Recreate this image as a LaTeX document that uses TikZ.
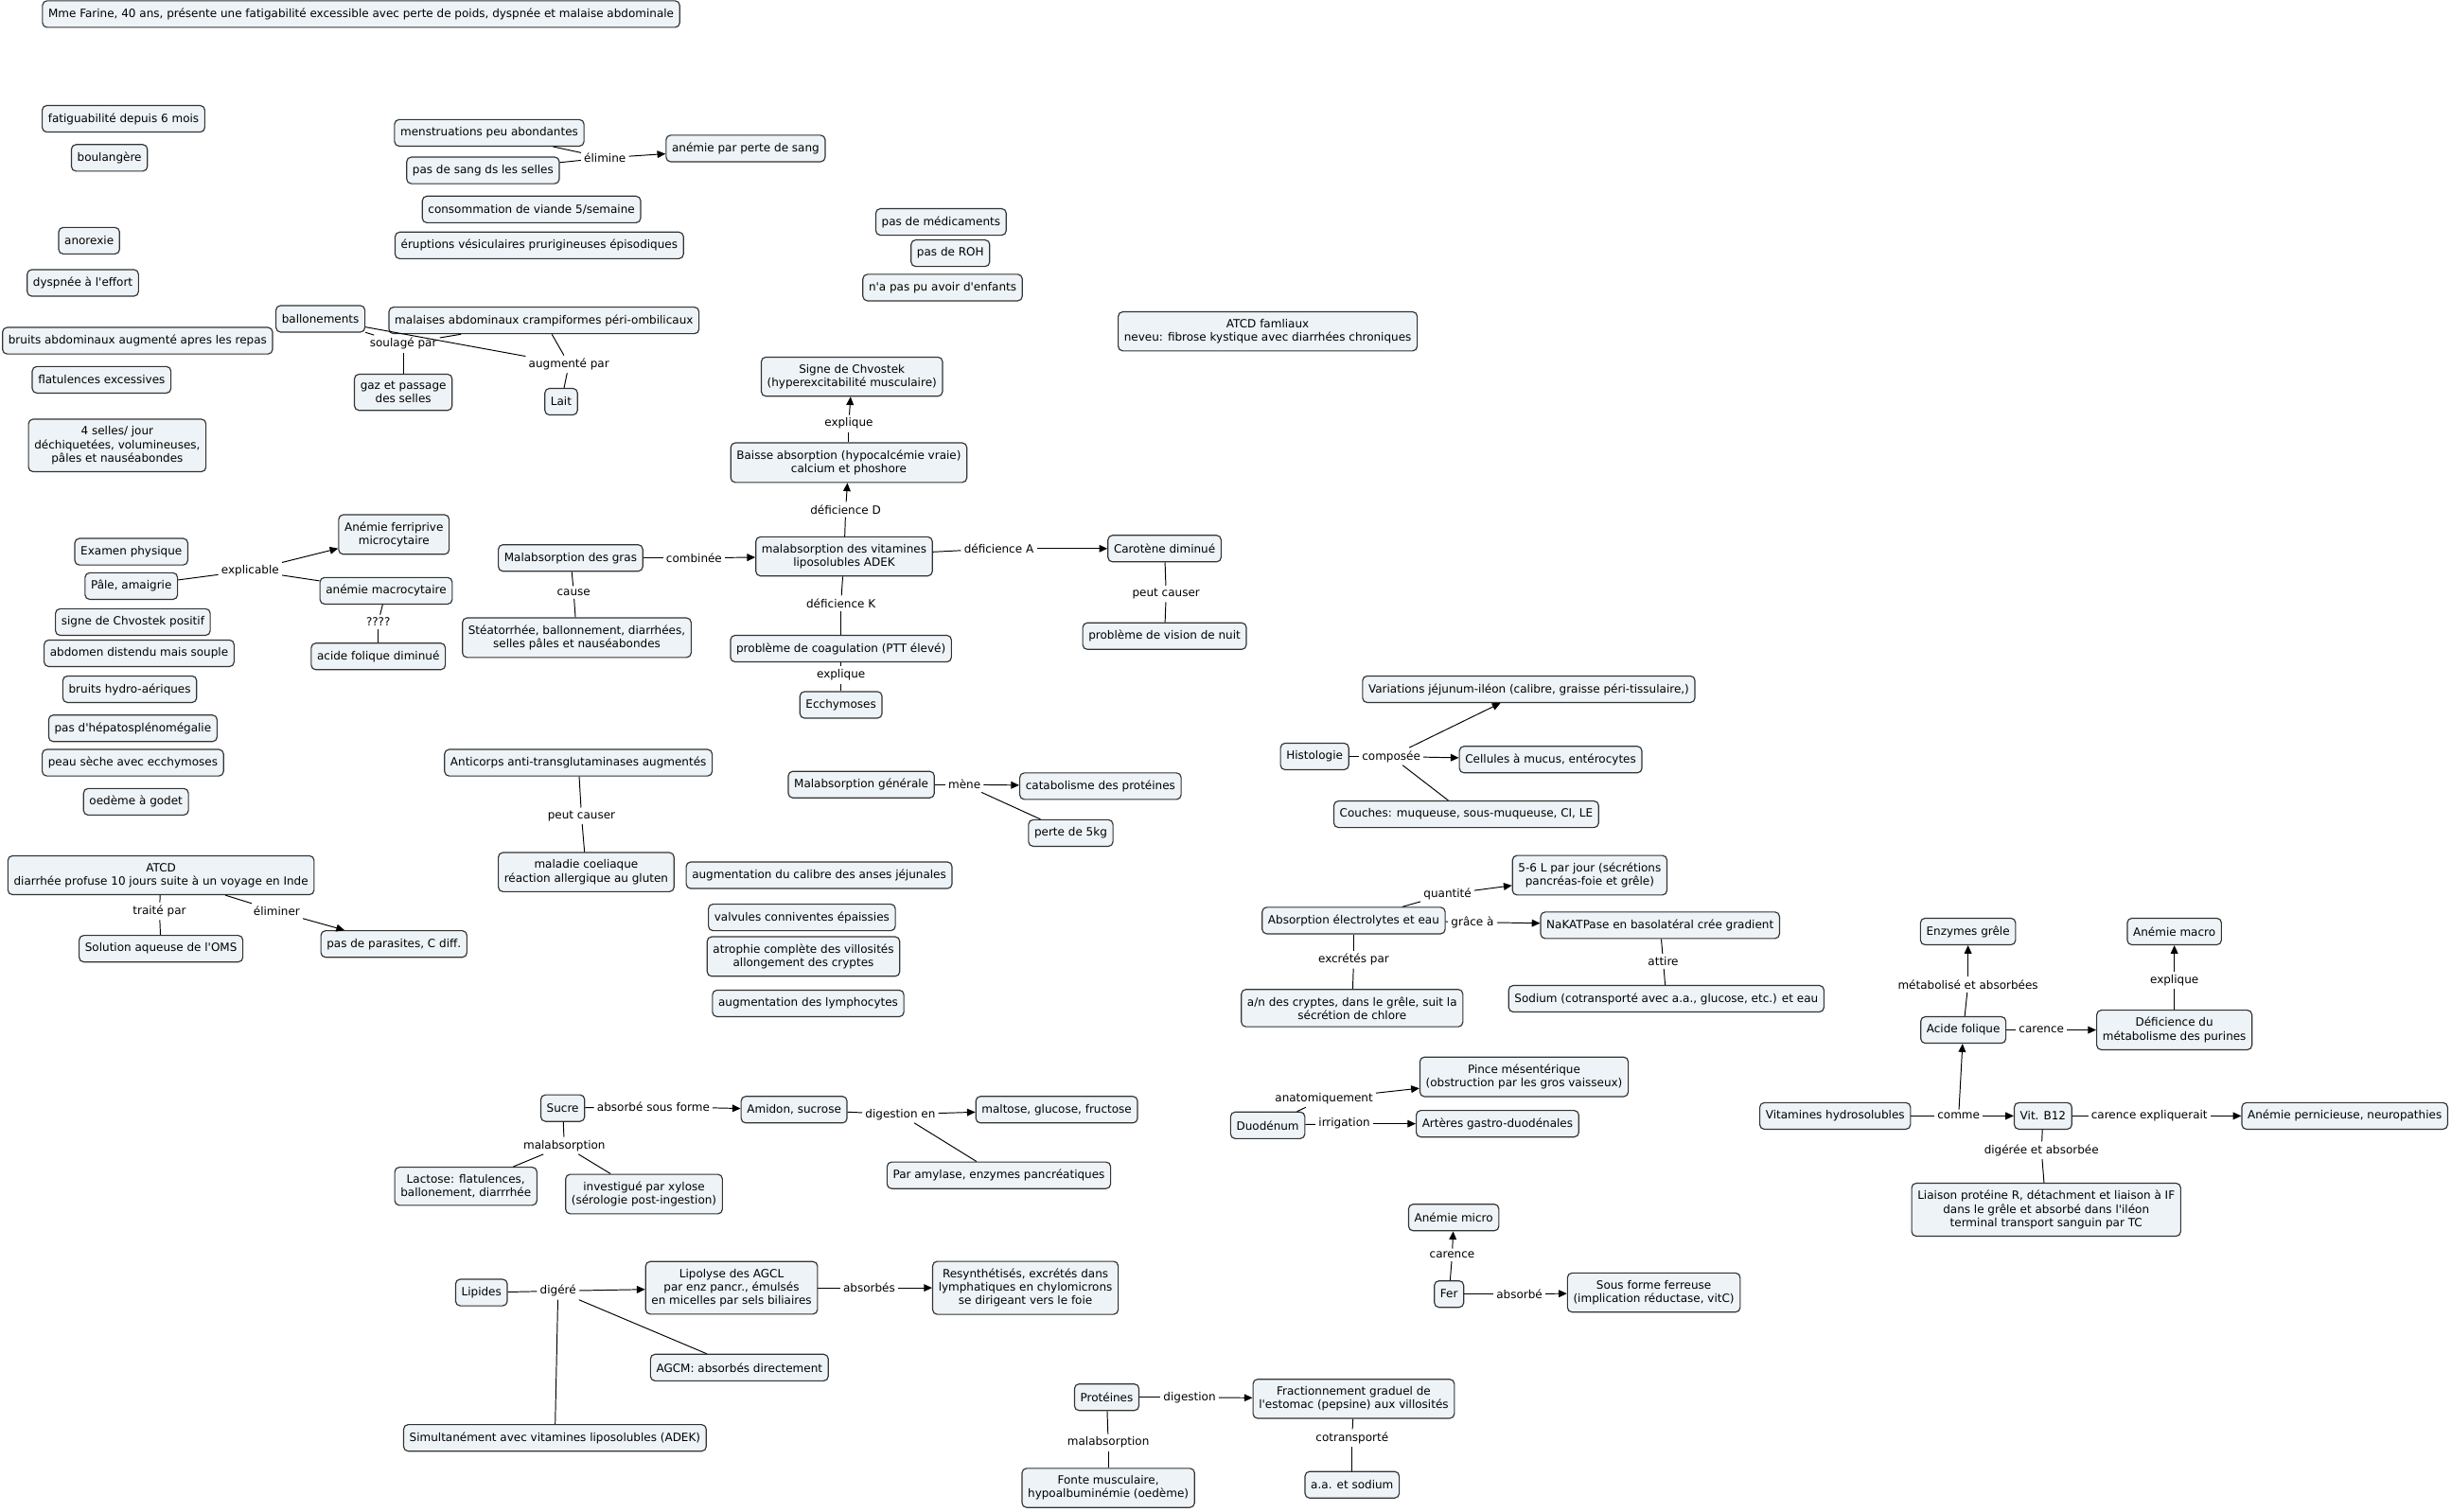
\documentclass[tikz,border=0pt]{standalone}
\usepackage{fontspec}
\setmainfont{DejaVu Sans}
\usetikzlibrary{arrows.meta}
\definecolor{cmapfill}{RGB}{237,243,246}
\newcommand{\aps}{\textquotesingle}

\begin{document}
\begin{tikzpicture}[
  x=0.03cm, y=-0.03cm,
  font=\fontsize{6.2}{7.35}\selectfont,
  >={Triangle[length=4.5pt,width=4pt]},
  concept/.style={rectangle, rounded corners=2.5pt, draw=black!80, fill=cmapfill,
                  line width=0.6pt, align=center, inner xsep=3.2pt, inner ysep=4pt,
                  minimum height=14.5pt},
  phrase/.style={inner sep=1.5pt, align=center},
  link/.style={draw=black, line width=0.5pt},
  linkto/.style={link, ->},
]
\fill[white] (0,0) rectangle (1568,967);
\useasboundingbox (0,0) rectangle (1568,967);

% Patient
\node[concept] (farine) at (231,9) {Mme Farine, 40 ans, présente une fatigabilité excessible avec perte de poids, dyspnée et malaise abdominale};

% Left column: history
\node[concept] (fatig) at (79,76) {fatiguabilité depuis 6 mois};
\node[concept] (boul) at (70,101) {boulangère};
\node[concept] (anor) at (57,154) {anorexie};
\node[concept] (dysp) at (53,181) {dyspnée à l\aps effort};
\node[concept] (bruits) at (88,218) {bruits abdominaux augmenté apres les repas};
\node[concept] (flat) at (65,243) {flatulences excessives};
\node[concept] (selles) at (75,285) {4 selles/ jour\\déchiquetées, volumineuses,\\pâles et nauséabondes};

% Blood loss
\node[concept] (menst) at (313,85) {menstruations peu abondantes};
\node[concept] (sang) at (309,109) {pas de sang ds les selles};
\node[phrase] (elim) at (387,101) {élimine};
\node[concept] (anperte) at (477,95) {anémie par perte de sang};
\node[concept] (viande) at (340,134) {consommation de viande 5/semaine};
\node[concept] (erupt) at (345,157) {éruptions vésiculaires prurigineuses épisodiques};

% Abdominal discomfort
\node[concept] (ballon) at (205,204) {ballonements};
\node[concept] (malaise) at (348,205) {malaises abdominaux crampiformes péri-ombilicaux};
\node[phrase] (soul) at (258,220) {soulagé par};
\node[phrase] (augm) at (364,233) {augmenté par};
\node[concept] (gaz) at (258,251) {gaz et passage\\des selles};
\node[concept] (lait) at (359,257) {Lait};

% Other history
\node[concept] (medic) at (602,142) {pas de médicaments};
\node[concept] (roh) at (608,162) {pas de ROH};
\node[concept] (enfants) at (603,184) {n\aps a pas pu avoir d\aps enfants};
\node[concept] (famil) at (811,212) {ATCD famliaux\\neveu: fibrose kystique avec diarrhées chroniques};

% Fat malabsorption
\node[concept] (chvo) at (545,241) {Signe de Chvostek\\(hyperexcitabilité musculaire)};
\node[phrase] (expl1) at (543,271) {explique};
\node[concept] (baisse) at (543,296) {Baisse absorption (hypocalcémie vraie)\\calcium et phoshore};
\node[phrase] (defD) at (541,326) {déficience D};
\node[concept] (adek) at (540,356) {malabsorption des vitamines\\liposolubles ADEK};
\node[phrase] (defA) at (639,351) {déficience A};
\node[concept] (carot) at (745,351) {Carotène diminué};
\node[phrase] (peut1) at (746,380) {peut causer};
\node[concept] (vision) at (745,407) {problème de vision de nuit};
\node[phrase] (defK) at (538,386) {déficience K};
\node[concept] (coag) at (538,415) {problème de coagulation (PTT élevé)};
\node[phrase] (expl2) at (538,432) {explique};
\node[concept] (ecchy) at (538,451) {Ecchymoses};
\node[concept] (gras) at (365,357) {Malabsorption des gras};
\node[phrase] (comb) at (444,357) {combinée};
\node[phrase] (cause) at (367,379) {cause};
\node[concept] (steat) at (369,408) {Stéatorrhée, ballonnement, diarrhées,\\selles pâles et nauséabondes};

% Physical exam
\node[concept] (exam) at (84,353) {Examen physique};
\node[concept] (pale) at (84,375) {Pâle, amaigrie};
\node[phrase] (explic) at (160,365) {explicable};
\node[concept] (ferri) at (252,342) {Anémie ferriprive\\microcytaire};
\node[concept] (macro) at (247,378) {anémie macrocytaire};
\node[phrase] (quest) at (242,398) {????};
\node[concept] (folique) at (242,420) {acide folique diminué};
\node[concept] (chvopos) at (85,398) {signe de Chvostek positif};
\node[concept] (abdo) at (89,418) {abdomen distendu mais souple};
\node[concept] (hydro) at (83,441) {bruits hydro-aériques};
\node[concept] (hepato) at (85,466) {pas d\aps hépatosplénomégalie};
\node[concept] (peau) at (85,488) {peau sèche avec ecchymoses};
\node[concept] (oedeme) at (87,513) {oedème à godet};

% Travel
\node[concept] (voyage) at (103,560) {ATCD\\diarrhée profuse 10 jours suite à un voyage en Inde};
\node[phrase] (traite) at (102,583) {traité par};
\node[concept] (oms) at (103,607) {Solution aqueuse de l\aps OMS};
\node[phrase] (elimr) at (177,583) {éliminer};
\node[concept] (parasit) at (252,604) {pas de parasites, C diff.};

% Coeliac disease
\node[concept] (anticorps) at (370,488) {Anticorps anti-transglutaminases augmentés};
\node[phrase] (peut2) at (372,522) {peut causer};
\node[concept] (coeli) at (375,558) {maladie coeliaque\\réaction allergique au gluten};
\node[concept] (calibre) at (524,560) {augmentation du calibre des anses jéjunales};
\node[concept] (valv) at (513,587) {valvules conniventes épaissies};
\node[concept] (atroph) at (514,612) {atrophie complète des villosités\\allongement des cryptes};
\node[concept] (lympho) at (517,642) {augmentation des lymphocytes};
\node[concept] (malgen) at (551,502) {Malabsorption générale};
\node[phrase] (mene) at (617,502) {mène};
\node[concept] (catab) at (704,503) {catabolisme des protéines};
\node[concept] (perte) at (685,533) {perte de 5kg};

% Histology and water
\node[concept] (variat) at (978,441) {Variations jéjunum-iléon (calibre, graisse péri-tissulaire,)};
\node[concept] (histo) at (841,484) {Histologie};
\node[phrase] (compo) at (890,484) {composée};
\node[concept] (cellul) at (992,486) {Cellules à mucus, entérocytes};
\node[concept] (couches) at (938,521) {Couches: muqueuse, sous-muqueuse, CI, LE};
\node[concept] (litres) at (1017,560) {5-6 L par jour (sécrétions\\pancréas-foie et grêle)};
\node[concept] (electro) at (866,589) {Absorption électrolytes et eau};
\node[phrase] (quant) at (926,572) {quantité};
\node[phrase] (grace) at (942,590) {grâce à};
\node[concept] (nak) at (1062,592) {NaKATPase en basolatéral crée gradient};
\node[phrase] (excr) at (866,614) {excrétés par};
\node[phrase] (attire) at (1064,615) {attire};
\node[concept] (cryptes) at (865,645) {a/n des cryptes, dans le grêle, suit la\\sécrétion de chlore};
\node[concept] (sodium) at (1066,639) {Sodium (cotransporté avec a.a., glucose, etc.) et eau};

% Water-soluble vitamins
\node[concept] (enzym) at (1259,596) {Enzymes grêle};
\node[concept] (anmacro) at (1391,596) {Anémie macro};
\node[phrase] (metab) at (1259,630) {métabolisé et absorbées};
\node[phrase] (expl3) at (1391,627) {explique};
\node[concept] (acfol) at (1256,659) {Acide folique};
\node[phrase] (car1) at (1306,659) {carence};
\node[concept] (purines) at (1391,659) {Déficience du\\métabolisme des purines};
\node[concept] (hydroso) at (1174,714) {Vitamines hydrosolubles};
\node[phrase] (comme) at (1253,714) {comme};
\node[concept] (b12) at (1307,714) {Vit. B12};
\node[phrase] (carexp) at (1375,714) {carence expliquerait};
\node[concept] (pernic) at (1500,714) {Anémie pernicieuse, neuropathies};
\node[phrase] (diger) at (1306,736) {digérée et absorbée};
\node[concept] (liaison) at (1309,774) {Liaison protéine R, détachment et liaison à IF\\dans le grêle et absorbé dans l\aps iléon\\terminal transport sanguin par TC};

% Duodenum
\node[concept] (pince) at (975,689) {Pince mésentérique\\(obstruction par les gros vaisseux)};
\node[concept] (duod) at (811,720) {Duodénum};
\node[phrase] (anat) at (847,703) {anatomiquement};
\node[phrase] (irrig) at (860,719) {irrigation};
\node[concept] (arter) at (958,719) {Artères gastro-duodénales};

% Iron
\node[concept] (anmicro) at (930,779) {Anémie micro};
\node[phrase] (car2) at (929,803) {carence};
\node[concept] (fer) at (927,828) {Fer};
\node[phrase] (absb) at (972,828) {absorbé};
\node[concept] (ferreuse) at (1058,827) {Sous forme ferreuse\\(implication réductase, vitC)};

% Sugars
\node[concept] (sucre) at (360,709) {Sucre};
\node[phrase] (absf) at (418,708) {absorbé sous forme};
\node[concept] (amidon) at (508,710) {Amidon, sucrose};
\node[phrase] (digen) at (576,713) {digestion en};
\node[concept] (maltose) at (676,710) {maltose, glucose, fructose};
\node[concept] (amylase) at (639,752) {Par amylase, enzymes pancréatiques};
\node[phrase] (malab1) at (361,733) {malabsorption};
\node[concept] (lactose) at (298,759) {Lactose: flatulences,\\ballonement, diarrrhée};
\node[concept] (xylose) at (412,764) {investigué par xylose\\(sérologie post-ingestion)};

% Lipids
\node[concept] (lipid) at (308,827) {Lipides};
\node[phrase] (diger2) at (357,826) {digéré};
\node[concept] (lipol) at (468,824) {Lipolyse des AGCL\\par enz pancr., émulsés\\en micelles par sels biliaires};
\node[phrase] (absbs) at (556,824) {absorbés};
\node[concept] (resynth) at (656,824) {Resynthétisés, excrétés dans\\lymphatiques en chylomicrons\\se dirigeant vers le foie};
\node[concept] (agcm) at (473,875) {AGCM: absorbés directement};
\node[concept] (simult) at (355,920) {Simultanément avec vitamines liposolubles (ADEK)};

% Proteins
\node[concept] (prot) at (708,894) {Protéines};
\node[phrase] (digst) at (761,894) {digestion};
\node[concept] (fraction) at (866,895) {Fractionnement graduel de\\l\aps estomac (pepsine) aux villosités};
\node[phrase] (malab2) at (709,923) {malabsorption};
\node[concept] (fonte) at (709,952) {Fonte musculaire,\\hypoalbuminémie (oedème)};
\node[phrase] (cotr) at (865,920) {cotransporté};
\node[concept] (aasod) at (865,950) {a.a. et sodium};

% Links
\draw[link] (menst) -- (elim);
\draw[link] (sang) -- (elim);
\draw[linkto] (elim) -- (anperte);
\draw[link] (ballon) -- (soul);
\draw[link] (malaise) -- (soul);
\draw[link] (soul) -- (gaz);
\draw[link] (ballon) -- (augm);
\draw[link] (malaise) -- (augm);
\draw[link] (augm) -- (lait);
\draw[link] (baisse) -- (expl1);
\draw[linkto] (expl1) -- (chvo);
\draw[link] (adek) -- (defD);
\draw[linkto] (defD) -- (baisse);
\draw[link] (adek) -- (defA);
\draw[linkto] (defA) -- (carot);
\draw[link] (carot) -- (peut1);
\draw[link] (peut1) -- (vision);
\draw[link] (adek) -- (defK);
\draw[link] (defK) -- (coag);
\draw[link] (coag) -- (expl2);
\draw[link] (expl2) -- (ecchy);
\draw[link] (gras) -- (comb);
\draw[linkto] (comb) -- (adek);
\draw[link] (gras) -- (cause);
\draw[link] (cause) -- (steat);
\draw[link] (pale) -- (explic);
\draw[linkto] (explic) -- (ferri);
\draw[link] (explic) -- (macro);
\draw[link] (macro) -- (quest);
\draw[link] (quest) -- (folique);
\draw[link] (voyage) -- (traite);
\draw[link] (traite) -- (oms);
\draw[link] (voyage) -- (elimr);
\draw[linkto] (elimr) -- (parasit);
\draw[link] (anticorps) -- (peut2);
\draw[link] (peut2) -- (coeli);
\draw[link] (malgen) -- (mene);
\draw[linkto] (mene) -- (catab);
\draw[link] (mene) -- (perte);
\draw[link] (histo) -- (compo);
\draw[linkto] (compo) -- (variat);
\draw[linkto] (compo) -- (cellul);
\draw[link] (compo) -- (couches);
\draw[link] (electro) -- (quant);
\draw[linkto] (quant) -- (litres);
\draw[link] (electro) -- (grace);
\draw[linkto] (grace) -- (nak);
\draw[link] (electro) -- (excr);
\draw[link] (excr) -- (cryptes);
\draw[link] (nak) -- (attire);
\draw[link] (attire) -- (sodium);
\draw[link] (acfol) -- (metab);
\draw[linkto] (metab) -- (enzym);
\draw[link] (acfol) -- (car1);
\draw[linkto] (car1) -- (purines);
\draw[link] (purines) -- (expl3);
\draw[linkto] (expl3) -- (anmacro);
\draw[link] (hydroso) -- (comme);
\draw[linkto] (comme) -- (b12);
\draw[linkto] (comme) -- (acfol);
\draw[link] (b12) -- (carexp);
\draw[linkto] (carexp) -- (pernic);
\draw[link] (b12) -- (diger);
\draw[link] (diger) -- (liaison);
\draw[link] (duod) -- (anat);
\draw[linkto] (anat) -- (pince);
\draw[link] (duod) -- (irrig);
\draw[linkto] (irrig) -- (arter);
\draw[link] (fer) -- (car2);
\draw[linkto] (car2) -- (anmicro);
\draw[link] (fer) -- (absb);
\draw[linkto] (absb) -- (ferreuse);
\draw[link] (sucre) -- (absf);
\draw[linkto] (absf) -- (amidon);
\draw[link] (amidon) -- (digen);
\draw[linkto] (digen) -- (maltose);
\draw[link] (digen) -- (amylase);
\draw[link] (sucre) -- (malab1);
\draw[link] (malab1) -- (lactose);
\draw[link] (malab1) -- (xylose);
\draw[link] (lipid) -- (diger2);
\draw[linkto] (diger2) -- (lipol);
\draw[link] (diger2) -- (agcm);
\draw[link] (diger2) -- (simult);
\draw[link] (lipol) -- (absbs);
\draw[linkto] (absbs) -- (resynth);
\draw[link] (prot) -- (digst);
\draw[linkto] (digst) -- (fraction);
\draw[link] (prot) -- (malab2);
\draw[link] (malab2) -- (fonte);
\draw[link] (fraction) -- (cotr);
\draw[link] (cotr) -- (aasod);
\end{tikzpicture}
\end{document}
